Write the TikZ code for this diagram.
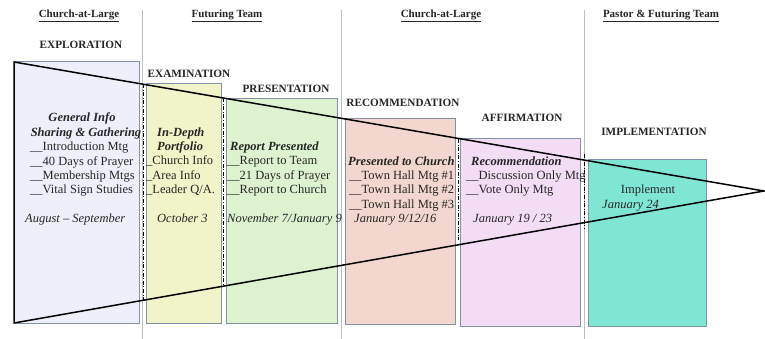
\documentclass[tikz,border=0pt]{standalone}
\usepackage{fontspec}
\setmainfont{Liberation Serif}
\begin{document}
\begin{tikzpicture}[x=1pt,y=-1pt,
  stagebox/.style={draw=boxline,line width=0.8pt},
  divider/.style={draw=black!25,line width=0.8pt},
  phaseline/.style={draw=black,line width=0.9pt,dash pattern=on 4pt off 1.6pt on 1pt off 1.6pt},
  funnel/.style={draw=black,line width=1.5pt,line join=miter},
  team/.style={font=\fontsize{11}{13}\selectfont\bfseries,text=black!85},
  stage/.style={font=\fontsize{11.2}{13}\selectfont\bfseries,text=black!85},
  txt/.style={font=\fontsize{12.5}{14}\selectfont,text=black!85,inner sep=0pt,text height=8.8pt,text depth=2.6pt},
  head/.style={txt,font=\fontsize{12.5}{14}\selectfont\bfseries\itshape},
  date/.style={txt,font=\fontsize{12.5}{14}\selectfont\itshape}]
\definecolor{boxline}{HTML}{8490A8}
\definecolor{fillA}{HTML}{EDEFFA}
\definecolor{fillB}{HTML}{F1F3C8}
\definecolor{fillC}{HTML}{DDF2CF}
\definecolor{fillD}{HTML}{F3D6CE}
\definecolor{fillE}{HTML}{F2DDF5}
\definecolor{fillF}{HTML}{80E6D4}
\useasboundingbox[fill=white] (0,0) rectangle (765,339);

% team column separators
\draw[divider] (142,10) -- (142,339);
\draw[divider] (341,10) -- (341,339);
\draw[divider] (584,10) -- (584,339);

% team headings
\node[team] (t1) at (79,16) {\underline{Church-at-Large}};
\node[team] (t2) at (227,16) {\underline{Futuring Team}};
\node[team] (t3) at (441,16) {\underline{Church-at-Large}};
\node[team] (t4) at (661,16) {\underline{Pastor \& Futuring Team}};

% stage boxes
\draw[stagebox,fill=fillA] (14,61) rectangle (139,323);
\draw[stagebox,fill=fillB] (146,83) rectangle (221,323);
\draw[stagebox,fill=fillC] (226,98) rectangle (337,323);
\draw[stagebox,fill=fillD] (345,118) rectangle (455,324);
\draw[stagebox,fill=fillE] (460,138) rectangle (580,326);
\draw[stagebox,fill=fillF] (588,159) rectangle (706,326);

% stage titles
\node[stage] (s1) at (81,45) {EXPLORATION};
\node[stage] (s2) at (189,74) {EXAMINATION};
\node[stage] (s3) at (286,89) {PRESENTATION};
\node[stage] (s4) at (403,103) {RECOMMENDATION};
\node[stage] (s5) at (522,118) {AFFIRMATION};
\node[stage] (s6) at (654,132) {IMPLEMENTATION};

% funnel
\coordinate (ftop) at (14,62);
\coordinate (fbot) at (14,323);
\coordinate (ftip) at (764,191);
\draw[funnel] (ftop) -- (ftip) -- (fbot) -- cycle;

% phase markers between stages
\draw[phaseline] (143,84) -- (143,300);
\draw[phaseline] (223,98) -- (223,286);
\draw[phaseline] (458,139) -- (458,240);
\draw[phaseline] (584,154) -- (584,229);

% exploration
\node[head] (a1) at (82,118) {General Info};
\node[head] (a2) at (86,133) {Sharing \& Gathering};
\node[txt,anchor=west] (a3) at (30,147) {\_\_Introduction Mtg};
\node[txt,anchor=west] (a4) at (30,162) {\_\_40 Days of Prayer};
\node[txt,anchor=west] (a5) at (30,176) {\_\_Membership Mtgs};
\node[txt,anchor=west] (a6) at (30,190) {\_\_Vital Sign Studies};
\node[date,anchor=west] (a7) at (25,219) {August – September};

% examination
\node[head,anchor=west] (b1) at (157,133) {In-Depth};
\node[head,anchor=west] (b2) at (157,147) {Portfolio};
\node[txt,anchor=west] (b3) at (146,161) {\_Church Info};
\node[txt,anchor=west] (b4) at (146,176) {\_Area Info};
\node[txt,anchor=west] (b5) at (146,190) {\_Leader Q/A.};
\node[date,anchor=west] (b6) at (157,219) {October 3};

% presentation
\node[head,anchor=west] (c1) at (230,147) {Report Presented};
\node[txt,anchor=west] (c2) at (227,161) {\_\_Report to Team};
\node[txt,anchor=west] (c3) at (227,176) {\_\_21 Days of Prayer};
\node[txt,anchor=west] (c4) at (227,190) {\_\_Report to Church};
\node[date,anchor=west] (c5) at (227,219) {November 7/January 9};

% recommendation
\node[head,anchor=west] (d1) at (348,162) {Presented to Church};
\node[txt,anchor=west] (d2) at (349,176) {\_\_Town Hall Mtg \#1};
\node[txt,anchor=west] (d3) at (349,190) {\_\_Town Hall Mtg \#2};
\node[txt,anchor=west] (d4) at (349,205) {\_\_Town Hall Mtg \#3};
\node[date,anchor=west] (d5) at (354,219) {January 9/12/16};

% affirmation
\node[head,anchor=west] (e1) at (471,162) {Recommendation};
\node[txt,anchor=west] (e2) at (466,176) {\_\_Discussion Only Mtg};
\node[txt,anchor=west] (e3) at (466,190) {\_\_Vote Only Mtg};
\node[date,anchor=west] (e4) at (473,219) {January 19 / 23};

% implementation
\node[txt] (f1) at (648,190) {Implement};
\node[date,anchor=west] (f2) at (602,205) {January 24};
\end{tikzpicture}
\end{document}
